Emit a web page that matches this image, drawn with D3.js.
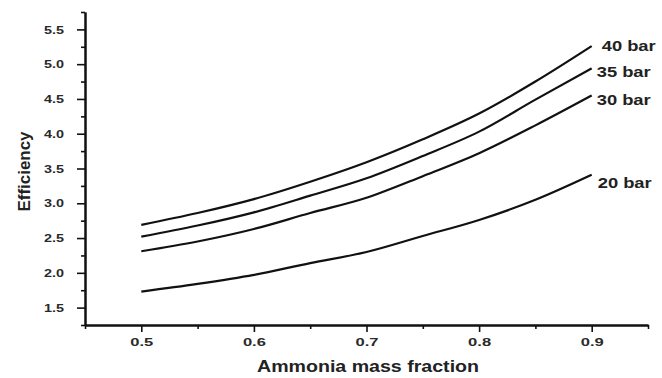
<!DOCTYPE html>
<html>
<head>
<meta charset="utf-8">
<script src="https://cdn.jsdelivr.net/npm/d3@7"></script>
<style>
  html, body { margin: 0; padding: 0; background: #fff; }
  svg { display: block; font-family: "Liberation Sans", Arial, sans-serif; }
</style>
</head>
<body>
<svg id="chart" width="662" height="378"></svg>
<script>
// ---- data ----
const fractions = [0.5, 0.55, 0.6, 0.65, 0.7, 0.75, 0.8, 0.85, 0.9];
const eff40 = [2.69, 2.86, 3.06, 3.31, 3.59, 3.92, 4.29, 4.75, 5.26];
const eff35 = [2.52, 2.68, 2.87, 3.11, 3.36, 3.68, 4.03, 4.49, 4.94];
const eff30 = [2.31, 2.45, 2.63, 2.86, 3.08, 3.39, 3.72, 4.12, 4.55];
const eff20 = [1.73, 1.84, 1.97, 2.14, 2.30, 2.53, 2.76, 3.05, 3.41];
const seriesNames = ["40 bar", "35 bar", "30 bar", "20 bar"];
const seriesValues = [eff40, eff35, eff30, eff20];
const xTicks = [0.5, 0.6, 0.7, 0.8, 0.9];
const xMinorTicks = [0.45, 0.55, 0.65, 0.75, 0.85, 0.95];
const yTicks = [1.5, 2.0, 2.5, 3.0, 3.5, 4.0, 4.5, 5.0, 5.5];
const yMinorTicks = [1.25, 1.75, 2.25, 2.75, 3.25, 3.75, 4.25, 4.75, 5.25, 5.75];
const xTitle = "Ammonia mass fraction";
const yTitle = "Efficiency";

// ---- layout ----
const labelOffsets = [[10, 5], [5, 9], [5, 10], [6, 13]];
const svg = d3.select("#chart");
const x = d3.scaleLinear().domain([0.45, 0.95]).range([85, 648]);
const y = d3.scaleLinear().domain([1.25, 5.75]).range([325, 12]);
const ink = "#111";

function styleAxis(g) {
  g.select(".domain").attr("stroke", ink).attr("stroke-width", 2);
  g.selectAll(".tick line").attr("stroke", ink).attr("stroke-width", 1.6);
}

// minor ticks
svg.append("g").attr("transform", "translate(0,325)")
  .call(d3.axisBottom(x).tickValues(xMinorTicks).tickSize(4).tickSizeOuter(0).tickFormat(""))
  .call(styleAxis);
svg.append("g").attr("transform", "translate(85,0)")
  .call(d3.axisLeft(y).tickValues(yMinorTicks).tickSize(4).tickSizeOuter(0).tickFormat(""))
  .call(styleAxis);

// major axes
const gx = svg.append("g").attr("transform", "translate(0,325)")
  .call(d3.axisBottom(x).tickValues(xTicks).tickSize(7).tickSizeOuter(0).tickPadding(5.5)
    .tickFormat(d3.format(".1f")))
  .call(styleAxis);
gx.selectAll(".tick text")
  .attr("font-size", 11.5).attr("font-weight", "bold").attr("fill", "#2a2a2a")
  .attr("font-family", "Liberation Sans, Arial, sans-serif")
  .attr("textLength", 23).attr("lengthAdjust", "spacingAndGlyphs");

const gy = svg.append("g").attr("transform", "translate(85,0)")
  .call(d3.axisLeft(y).tickValues(yTicks).tickSize(8).tickSizeOuter(0).tickPadding(13)
    .tickFormat(d3.format(".1f")))
  .call(styleAxis);
gy.selectAll(".tick text")
  .attr("font-size", 11.5).attr("font-weight", "bold").attr("fill", "#2a2a2a")
  .attr("font-family", "Liberation Sans, Arial, sans-serif")
  .attr("textLength", 20).attr("lengthAdjust", "spacingAndGlyphs");

// axis titles
svg.append("text")
  .attr("x", 368).attr("y", 372).attr("text-anchor", "middle")
  .attr("font-size", 16).attr("font-weight", "bold").attr("fill", "#222")
  .attr("textLength", 222).attr("lengthAdjust", "spacingAndGlyphs")
  .text(xTitle);
svg.append("text")
  .attr("transform", "translate(29.5,171.5) rotate(-90)")
  .attr("text-anchor", "middle")
  .attr("font-size", 16).attr("font-weight", "bold").attr("fill", "#222")
  .attr("textLength", 80).attr("lengthAdjust", "spacingAndGlyphs")
  .text(yTitle);

// curves
const line = d3.line()
  .x((d, i) => x(fractions[i]))
  .y(d => y(d))
  .curve(d3.curveMonotoneX);

seriesValues.forEach((vals, k) => {
  svg.append("path")
    .attr("d", line(vals))
    .attr("fill", "none")
    .attr("stroke", ink)
    .attr("stroke-width", 2.2)
    .attr("stroke-linejoin", "round");
  const last = vals.length - 1;
  svg.append("text")
    .attr("x", x(fractions[last]) + labelOffsets[k][0])
    .attr("y", y(vals[last]) + labelOffsets[k][1])
    .attr("font-size", 14).attr("font-weight", "bold").attr("fill", "#222")
    .attr("textLength", 54).attr("lengthAdjust", "spacingAndGlyphs")
    .text(seriesNames[k]);
});
</script>
</body>
</html>
